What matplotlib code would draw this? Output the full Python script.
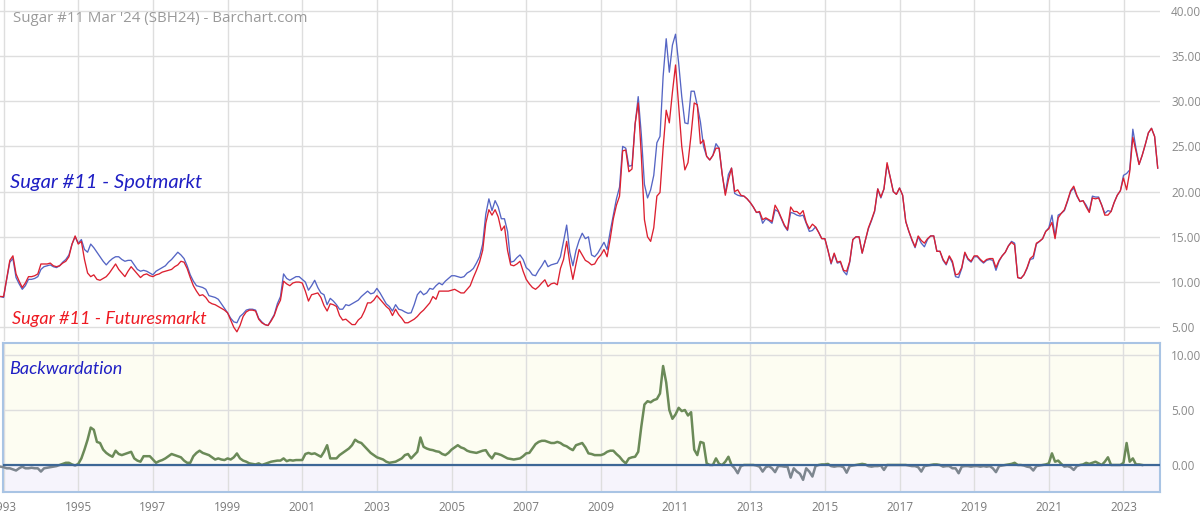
import numpy as np
import matplotlib
matplotlib.use("Agg")
import matplotlib.pyplot as plt
from matplotlib.patches import Rectangle

# ---------------------------
# Data (monthly, first value = Dec 1992)
# ---------------------------
spot = [
    8.4,
    8.3, 10.3, 12.2, 12.6, 10.5, 9.8, 9.2, 9.6, 10.3, 10.3, 10.4, 10.6,        # 1993
    11.4, 11.7, 11.8, 11.9, 11.7, 11.6, 11.8, 12.2, 12.5, 13.0, 14.2, 15.0,    # 1994
    14.3, 14.7, 13.6, 13.3, 14.2, 13.8, 13.3, 12.8, 12.3, 11.9, 12.3, 12.6,    # 1995
    12.8, 12.8, 12.5, 12.3, 12.4, 12.4, 11.9, 11.4, 11.2, 11.3, 11.2, 11.0,    # 1996
    10.8, 11.2, 11.4, 11.6, 11.8, 12.2, 12.5, 12.9, 13.3, 13.0, 12.6, 11.8,    # 1997
    10.8, 10.1, 9.6, 9.5, 9.4, 9.2, 8.5, 8.4, 8.3, 8.1, 7.6, 7.1,              # 1998
    6.6, 6.0, 5.6, 5.5, 6.2, 6.5, 6.9, 7.0, 7.0, 6.9, 6.0, 5.6,                # 1999
    5.3, 5.2, 5.8, 6.4, 7.6, 8.4, 10.9, 10.4, 10.2, 10.4, 10.6, 10.6,          # 2000
    10.3, 10.0, 9.1, 9.6, 10.2, 9.4, 8.8, 8.6, 7.5, 8.2, 7.9, 7.5,             # 2001
    7.0, 7.0, 7.5, 7.4, 7.6, 7.8, 8.0, 8.4, 8.7, 9.0, 8.7, 8.8,                # 2002
    9.3, 8.8, 8.2, 7.6, 7.3, 6.8, 7.5, 7.0, 6.9, 6.7, 6.55, 6.6,               # 2003
    7.5, 8.6, 9.0, 8.6, 8.8, 9.3, 9.2, 9.6, 9.9, 9.7, 10.1, 10.4,              # 2004
    10.7, 10.7, 10.6, 10.5, 10.6, 11.0, 11.2, 11.5, 12.1, 12.8, 14.2, 17.5,    # 2005
    19.2, 17.9, 19.0, 18.3, 17.0, 17.0, 15.6, 12.2, 12.3, 12.7, 13.0, 12.5,    # 2006
    11.6, 11.3, 10.8, 10.7, 11.3, 11.8, 12.4, 11.7, 11.9, 12.0, 12.1, 12.8,    # 2007
    14.5, 16.3, 13.3, 11.8, 13.5, 14.6, 15.4, 14.8, 15.0, 13.0, 12.8, 13.2,    # 2008
    13.8, 14.4, 13.6, 15.6, 17.4, 19.2, 20.5, 25.0, 24.8, 22.8, 22.9, 27.4,    # 2009
    30.5, 26.3, 20.8, 19.3, 20.2, 21.8, 25.4, 26.1, 32.7, 36.9, 33.2, 36.2,    # 2010
    37.4, 34.2, 30.5, 27.6, 27.5, 31.1, 31.1, 29.5, 27.7, 25.0, 23.9, 23.5,    # 2011
    24.0, 25.3, 24.8, 21.9, 19.8, 21.9, 22.6, 19.8, 19.6, 19.5, 19.5, 19.2,    # 2012
    18.8, 18.3, 17.7, 17.7, 16.5, 17.0, 16.8, 16.5, 18.0, 17.8, 17.0, 16.2,    # 2013
    15.7, 17.7, 17.6, 17.4, 17.3, 17.4, 16.5, 15.6, 15.7, 16.1, 15.5, 14.8,    # 2014
    14.8, 13.5, 12.0, 13.1, 12.1, 12.2, 11.2, 10.8, 12.2, 14.7, 15.0, 15.0,    # 2015
    13.2, 14.6, 15.9, 16.8, 17.8, 20.3, 19.3, 20.3, 23.0, 21.6, 20.0, 19.7,    # 2016
    20.4, 19.6, 16.7, 15.6, 14.6, 13.8, 15.0, 14.3, 13.9, 14.7, 15.1, 15.1,    # 2017
    13.4, 13.4, 12.4, 11.9, 12.8, 12.1, 10.6, 10.5, 11.5, 13.2, 12.5, 12.2,    # 2018
    12.8, 12.8, 12.4, 12.1, 12.4, 12.5, 12.4, 11.3, 12.3, 12.9, 13.3, 14.0,    # 2019
    14.5, 14.3, 10.5, 10.4, 10.8, 11.5, 12.5, 12.6, 14.2, 14.5, 14.8, 15.6,    # 2020
    16.0, 17.4, 15.0, 17.4, 17.6, 17.9, 18.9, 20.0, 20.4, 19.5, 18.9, 19.0,    # 2021
    18.5, 17.8, 19.5, 19.4, 19.4, 18.5, 17.6, 17.9, 17.8, 18.8, 19.6, 20.1,    # 2022
    21.8, 22.0, 22.4, 26.9, 24.8, 23.0, 24.0, 25.2, 26.5, 27.0, 26.1, 22.6,    # 2023
]

futures = [
    8.4,
    8.4, 10.4, 12.4, 12.9, 10.9, 10.1, 9.4, 9.9, 10.6, 10.6, 10.7, 10.9,       # 1993
    12.0, 12.0, 12.0, 12.1, 11.8, 11.7, 11.8, 12.1, 12.3, 12.8, 14.2, 15.1,    # 1994
    14.2, 14.5, 12.5, 11.0, 10.6, 10.8, 10.3, 10.2, 10.4, 10.6, 11.0, 11.5,    # 1995
    12.0, 11.4, 11.0, 10.6, 11.2, 11.7, 11.3, 10.9, 10.5, 10.8, 10.9, 10.7,    # 1996
    10.6, 10.8, 10.9, 11.1, 11.2, 11.3, 11.4, 11.7, 11.9, 12.3, 12.2, 11.5,    # 1997
    10.5, 9.6, 9.0, 8.5, 8.6, 8.3, 7.8, 7.6, 7.5, 7.3, 7.1, 6.9,               # 1998
    6.6, 5.8, 5.0, 4.5, 5.2, 6.2, 6.7, 6.9, 6.9, 6.8, 5.9, 5.5,                # 1999
    5.3, 5.2, 5.7, 6.3, 7.3, 8.0, 10.1, 9.8, 9.6, 9.9, 10.0, 10.0,             # 2000
    9.9, 9.0, 7.9, 8.6, 8.7, 8.8, 8.3, 7.4, 6.8, 7.6, 7.5, 7.3,                # 2001
    6.3, 5.8, 5.9, 5.6, 5.3, 5.3, 5.8, 6.1, 6.8, 7.7, 7.7, 8.0,                # 2002
    8.5, 8.1, 7.7, 7.3, 7.0, 6.3, 7.0, 6.4, 6.0, 5.5, 5.5, 5.7,                # 2003
    5.9, 6.2, 6.6, 6.9, 7.3, 7.7, 8.4, 8.1, 9.0, 9.0, 9.0, 9.0,                # 2004
    9.1, 9.2, 9.0, 8.8, 8.8, 9.2, 9.6, 10.5, 11.3, 12.2, 13.5, 16.5,           # 2005
    18.0, 17.4, 18.0, 17.2, 15.7, 16.2, 13.5, 11.9, 11.8, 12.0, 12.3, 11.2,    # 2006
    10.3, 9.8, 9.4, 9.2, 9.5, 9.9, 10.25, 9.5, 9.8, 9.9, 9.7, 11.5,            # 2007
    12.5, 14.5, 12.1, 10.3, 12.0, 13.6, 13.0, 12.4, 12.2, 11.9, 12.0, 12.6,    # 2008
    13.0, 13.6, 12.8, 14.8, 17.0, 18.5, 19.5, 24.5, 24.6, 22.2, 22.5, 27.5,    # 2009
    29.8, 24.0, 16.9, 15.0, 14.5, 16.0, 19.5, 19.9, 24.8, 29.0, 27.6, 31.0,    # 2010
    34.0, 29.5, 25.0, 22.4, 23.2, 26.3, 29.8, 29.6, 25.3, 25.7, 23.9, 23.5,    # 2011
    24.0, 24.8, 24.8, 21.9, 19.6, 21.3, 22.6, 20.0, 20.2, 19.6, 19.5, 19.2,    # 2012
    18.8, 18.3, 17.7, 17.8, 16.9, 17.1, 16.9, 16.7, 18.5, 17.9, 17.1, 16.3,    # 2013
    15.8, 18.3, 17.8, 17.8, 17.5, 17.9, 16.6, 15.9, 16.4, 16.1, 15.5, 14.8,    # 2014
    14.8, 13.5, 12.1, 13.2, 12.2, 12.3, 11.3, 11.2, 12.3, 14.7, 15.0, 15.0,    # 2015
    13.2, 14.6, 16.0, 16.9, 17.9, 20.3, 19.4, 20.3, 23.2, 21.6, 20.0, 19.7,    # 2016
    20.4, 19.6, 16.7, 15.6, 14.7, 13.9, 15.1, 14.6, 14.3, 14.8, 15.1, 15.1,    # 2017
    13.4, 13.4, 12.5, 12.0, 12.9, 12.3, 10.8, 10.9, 11.6, 13.3, 12.6, 12.3,    # 2018
    12.9, 12.9, 12.5, 12.2, 12.5, 12.6, 12.6, 11.6, 12.4, 12.9, 13.3, 14.0,    # 2019
    14.4, 14.1, 10.5, 10.4, 10.8, 11.6, 12.6, 12.9, 14.3, 14.5, 14.8, 15.6,    # 2020
    15.9, 16.6, 14.8, 17.1, 17.6, 18.0, 19.0, 20.1, 20.6, 19.6, 18.9, 19.0,    # 2021
    18.3, 17.7, 19.3, 19.2, 19.3, 18.5, 17.4, 17.4, 17.8, 18.8, 19.6, 20.1,    # 2022
    21.5, 20.2, 22.2, 26.0, 24.5, 23.0, 24.0, 25.2, 26.5, 27.0, 26.1, 22.6,    # 2023
]

backwardation = [
    -0.15,
    -0.2, -0.3, -0.3, -0.4, -0.5, -0.3, -0.15, -0.3, -0.3, -0.25, -0.3, -0.3,   # 1993
    -0.6, -0.3, -0.25, -0.2, -0.15, -0.1, 0.0, 0.1, 0.2, 0.2, 0.05, -0.05,      # 1994
    0.1, 0.6, 1.4, 2.3, 3.4, 3.2, 2.1, 2.0, 1.4, 1.1, 0.9, 0.75,                # 1995
    1.3, 1.0, 0.9, 1.0, 1.1, 1.2, 0.6, 0.4, 0.3, 0.8, 0.8, 0.8,                 # 1996
    0.5, 0.2, 0.35, 0.45, 0.6, 0.8, 1.0, 0.9, 0.8, 0.7, 0.4, 0.2,               # 1997
    0.2, 0.8, 1.1, 1.3, 1.1, 1.0, 0.9, 0.7, 0.5, 0.6, 0.5, 0.45,                # 1998
    0.6, 0.5, 0.7, 1.05, 0.6, 0.4, 0.3, 0.15, 0.1, 0.05, 0.15, 0.0,             # 1999
    0.1, 0.2, 0.3, 0.35, 0.4, 0.4, 0.6, 0.35, 0.45, 0.4, 0.45, 0.45,            # 2000
    0.45, 1.0, 1.1, 1.0, 1.06, 0.9, 0.75, 1.2, 1.8, 0.6, 0.6, 0.6,              # 2001
    0.9, 1.1, 1.3, 1.5, 1.8, 2.3, 2.1, 2.0, 1.7, 1.4, 1.1, 0.9,                 # 2002
    0.7, 0.6, 0.5, 0.3, 0.2, 0.25, 0.3, 0.45, 0.6, 0.9, 1.0, 0.6,               # 2003
    0.9, 1.2, 2.5, 1.65, 1.5, 1.4, 1.35, 1.25, 1.2, 1.0, 0.9, 1.1,              # 2004
    1.4, 1.6, 1.8, 1.6, 1.5, 1.3, 1.2, 1.15, 1.1, 1.2, 1.3, 1.35,               # 2005
    0.9, 0.6, 1.06, 1.0, 0.9, 0.75, 0.6, 0.55, 0.5, 0.55, 0.6, 0.8,             # 2006
    1.06, 1.1, 1.5, 1.9, 2.1, 2.2, 2.2, 2.1, 2.0, 2.0, 2.1, 2.0,                # 2007
    1.8, 1.7, 1.5, 1.35, 1.8, 1.9, 2.0, 1.6, 1.06, 1.0, 0.9, 0.9,               # 2008
    0.9, 1.0, 1.2, 1.3, 1.3, 1.0, 0.75, 0.4, 0.15, 0.6, 0.7, 0.75,              # 2009
    1.2, 3.5, 5.5, 5.8, 5.7, 5.9, 6.0, 6.5, 9.0, 7.5, 5.0, 4.2,                 # 2010
    4.6, 5.2, 4.9, 5.0, 4.5, 4.8, 1.4, 0.9, 2.1, 2.0, 0.15, 0.0,                # 2011
    0.0, 0.6, 0.1, 0.0, 0.3, 0.75, 0.0, -0.3, -0.75, -0.1, 0.0, 0.0,            # 2012
    0.0, 0.0, -0.05, -0.15, -0.6, -0.2, -0.1, -0.3, -0.65, -0.1, -0.1, -0.15,   # 2013
    -0.15, -1.15, -0.3, -0.6, -0.8, -1.35, -0.3, -0.6, -1.05, -0.1, 0.0, 0.05,  # 2014
    0.05, 0.1, -0.1, -0.15, -0.1, -0.1, -0.2, -0.7, -0.1, -0.05, 0.0, 0.05,     # 2015
    0.1, 0.05, -0.1, -0.15, -0.1, -0.1, -0.05, -0.45, 0.0, 0.0, 0.0, 0.0,       # 2016
    0.0, 0.0, 0.0, -0.05, -0.1, -0.1, -0.2, -0.6, -0.1, -0.05, 0.0, 0.05,       # 2017
    0.05, 0.0, -0.15, -0.1, -0.1, -0.3, -0.3, -0.75, -0.15, -0.1, -0.1, -0.15,  # 2018
    -0.1, -0.1, -0.15, -0.1, -0.15, -0.1, -0.3, -0.65, -0.1, -0.05, 0.0, 0.05,  # 2019
    0.1, 0.2, 0.0, 0.0, -0.05, -0.15, -0.2, -0.5, -0.1, -0.05, 0.0, 0.05,       # 2020
    0.15, 1.06, 0.3, 0.4, 0.1, -0.15, -0.1, -0.2, -0.45, -0.1, 0.0, 0.05,       # 2021
    0.2, 0.1, 0.2, 0.3, 0.15, 0.0, 0.3, 0.7, 0.0, 0.0, 0.0, 0.0,                # 2022
    0.2, 2.0, 0.3, 0.6, 0.05, 0.05, 0.0,                                        # 2023
]

year_ticks = list(range(1993, 2024, 2))
price_ticks = [5, 10, 15, 20, 25, 30, 35, 40]
back_ticks = [0, 5, 10]

# time axis: monthly steps starting Dec 1992
t_price = 1992 + 11 / 12 + np.arange(len(spot)) / 12
t_back = 1992 + 11 / 12 + np.arange(len(backwardation)) / 12

# ---------------------------
# Layout helpers (pixel -> figure fraction)
# ---------------------------
W, H = 1200, 514
def px2year(x):
    return 1993 + (x - 3.6) / 37.33

plt.rcParams['font.family'] = ['Open Sans', 'DejaVu Sans']
fig = plt.figure(figsize=(W / 100, H / 100), dpi=100)

grid_c = "#dedede"
tick_c = "#8a8a8a"

# ---------------------------
# Top panel: prices
# ---------------------------
top_px, bot_px = 0, 341
ax1 = fig.add_axes([0, 1 - bot_px / H, 1160 / W, (bot_px - top_px) / H])
ax1.set_xlim(px2year(0), px2year(1160))
ax1.set_ylim(5 - (bot_px - 327.3) / 9.046, 40 + 10.7 / 9.046)
ax1.plot(t_price, spot, color="#5565c4", lw=0.95, zorder=3)
ax1.plot(t_price, futures, color="#dc2030", lw=0.95, zorder=4)
ax1.set_xticks(year_ticks)
ax1.set_yticks(price_ticks)
ax1.grid(True, color=grid_c, lw=1.0, zorder=0)
ax1.yaxis.tick_right()
ax1.set_yticklabels([f"{v:.2f}" for v in price_ticks])
ax1.tick_params(axis="y", length=0, pad=8, labelsize=8.5, labelcolor=tick_c)
ax1.tick_params(axis="x", length=0, labelbottom=False)
for s in ax1.spines.values():
    s.set_visible(False)

# ---------------------------
# Bottom panel: backwardation
# ---------------------------
b_top, b_bot, b_left = 342.7, 491.7, 2.7
ax2 = fig.add_axes([b_left / W, 1 - b_bot / H, (1160 - b_left) / W, (b_bot - b_top) / H])
ax2.set_xlim(px2year(b_left), px2year(1160))
y0 = 465.0
ax2.set_ylim(-(b_bot - y0) / 11.0, (y0 - b_top) / 11.0)
ax2.axhspan(0, 20, color="#fdfdf2", zorder=0)
ax2.axhspan(-20, 0, color="#f6f4fc", zorder=0)
ax2.set_xticks(year_ticks)
ax2.set_yticks(back_ticks)
ax2.grid(True, color=grid_c, lw=1.0, zorder=1)

pos_line, = ax2.plot(t_back, backwardation, color="#6b8a58", lw=1.8, zorder=3)
neg_line, = ax2.plot(t_back, backwardation, color="#7d868f", lw=1.8, zorder=3)
pos_line.set_clip_path(Rectangle((1990, 0), 40, 20, transform=ax2.transData))
neg_line.set_clip_path(Rectangle((1990, -20), 40, 20, transform=ax2.transData))
ax2.axhline(0, color="#3d6796", lw=1.6, zorder=4)

ax2.yaxis.tick_right()
ax2.set_yticklabels([f"{v:.2f}" for v in back_ticks])
ax2.tick_params(axis="y", length=0, pad=8, labelsize=8.5, labelcolor=tick_c)
ax2.set_xticklabels([str(y) for y in year_ticks])
ax2.tick_params(axis="x", length=0, pad=7, labelsize=8.5, labelcolor="#7a7a7a")
for s in ax2.spines.values():
    s.set_color("#a9c4e4")
    s.set_linewidth(1.5)

# ---------------------------
# Texts
# ---------------------------
fig.text(13 / W, 1 - 19 / H, "Sugar #11 Mar '24 (SBH24) - Barchart.com",
         fontsize=10.8, color="#9a9a9a", va="center", ha="left")
fig.text(10 / W, 1 - 182 / H, "Sugar #11 - Spotmarkt", family="Lato",
         style="italic", fontsize=14.5, color="#1f1fc4", va="center", ha="left")
fig.text(12 / W, 1 - 319 / H, "Sugar #11 - Futuresmarkt", family="Lato",
         style="italic", fontsize=13, color="#ee1a22", va="center", ha="left")
fig.text(9 / W, 1 - 369 / H, "Backwardation", family="Lato",
         style="italic", fontsize=13, color="#1f1fc4", va="center", ha="left")

fig.savefig("out.png", dpi=100)
